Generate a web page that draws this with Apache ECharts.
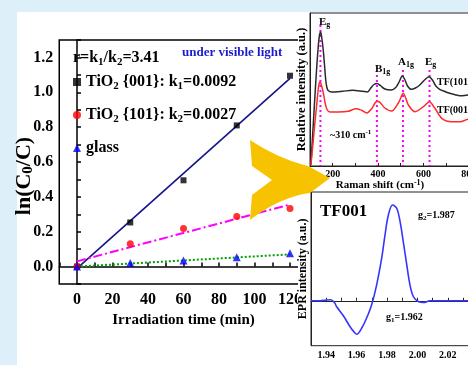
<!DOCTYPE html>
<html><head><meta charset="utf-8">
<script src="https://cdn.jsdelivr.net/npm/echarts@6/dist/echarts.min.js"></script>
<style>
html,body{margin:0;padding:0;background:#ddeff9;}
#wrap{position:relative;width:468px;height:365px;overflow:hidden;background:#ddeff9;}
#panel{position:absolute;left:17px;top:12px;right:0;bottom:0;background:#fff;}
#chart{position:absolute;left:0;top:0;width:468px;height:365px;}
</style></head><body>
<div id="wrap"><div id="panel"></div><div id="chart"></div></div>
<script>
// ---------- main chart: ln(C0/C) vs irradiation time ----------
const timeMin = [0, 30, 60, 90, 120];
const lnTiO2_001 = [0, 0.253, 0.495, 0.81, 1.095];
const lnTiO2_101 = [0, 0.131, 0.218, 0.287, 0.333];
const lnGlass = [0, 0.02, 0.035, 0.054, 0.076];
const fitTime = [0, 120];
const fit001 = [-0.01, 1.08];
const fit101 = [0.03, 0.356];
const fitGlass = [0.0, 0.07];
const xTicks = [0, 20, 40, 60, 80, 100, 120];
const yTicks = [0.0, 0.2, 0.4, 0.6, 0.8, 1.0, 1.2];

// ---------- Raman inset ----------
const ramanShift101 = [104,113,122,130,137,142,147,152,158,164,169,174,180,196,243,287,331,353,368,382,396,410,430,459,478,493,507,518,530,547,565,584,605,625,640,655,672,695,716,740,760,796,830,880];
const ramanInt101   = [1,36,71,100,121,131,134,128,117,101,87,79,75.5,74,74.7,75.7,74.7,74,78,81.5,82.5,80.5,77,76,78.5,84,90,86.5,80,76.7,78,81,86,89.3,86,80,76.7,74.5,72.7,71.3,70.3,71,72,72];
const ramanShift001 = [104,113,122,130,136.5,141,145,150,158,166,174,188,225,269,295,306,318,328,350,372,390,400,409,430,460,489,500,511,522,534,563,600,626,651,681,725,761,797,830,880];
const ramanInt001   = [1,22,44,62,77,83,84,81,74,64,57,54,54,54.7,57,57.3,56.5,55.7,53,57.3,64,64.5,63.5,58,55,62.7,68,72.7,68,61,54.3,59.3,64.3,57.7,47.7,44.3,44.3,46.7,47,47];
const ramanPeaks = [146, 395, 510, 627];
const ramanPeakTop = [141, 91, 96, 96];
const ramanTicks = [200, 400, 600, 800];
const ramanArrow = [[284, 30.7], [313, 54]];

// ---------- EPR inset ----------
const gValue = [1.930,1.936,1.940,1.943,1.9455,1.9469,1.9513,1.9557,1.9589,1.9601,1.9634,1.9666,1.9699,1.9732,1.9765,1.9787,1.9809,1.9837,1.9864,1.9886,1.9907,1.9930,1.9951,1.9973,2.0006,2.0039,2.0083,2.02,2.05];
const eprIntensity = [0,0,0.8,1,-2,-6,-15,-26,-32.3,-33.5,-27.3,-17.3,-4,16,42.7,66,86,96,92.7,79.3,59.3,36,16,4.3,-0.7,-1.7,0,0,0];
const gTicks = [1.94, 1.96, 1.98, 2.00, 2.02, 2.04];
const g2Arrow = [[2.0017, 91], [1.9841, 96]];
const g1Arrow = [[1.9787, -19], [1.9634, -32.3]];

const serif = 'Liberation Serif';
const pairs = (xs, ys) => xs.map((x, i) => [x, ys[i]]);

const chart = echarts.init(document.getElementById('chart'), null, {renderer: 'canvas'});

const subRich = (fs, lh) => ({fontSize: fs, lineHeight: lh, verticalAlign: 'bottom', fontWeight: 'bold', fontFamily: serif});

function gText(x, y, text, fs, lh, opts) {
  opts = opts || {};
  return {
    type: 'text', x: x, y: y, z: opts.z || 40, rotation: opts.rotation || 0, silent: true,
    style: {
      text: text, fill: opts.fill || '#000', fontSize: fs, fontWeight: 'bold', fontFamily: serif,
      lineHeight: lh, align: opts.align || 'left', textAlign: opts.align || 'left',
      verticalAlign: 'middle', textVerticalAlign: 'middle',
      rich: {
        s: {fontSize: Math.round(fs * 0.7), lineHeight: Math.round(fs * 0.7), verticalAlign: 'bottom', fontWeight: 'bold', fontFamily: serif, fill: opts.fill || '#000'},
        u: {fontSize: Math.round(fs * 0.7), lineHeight: Math.round(fs * 0.7), verticalAlign: 'top', fontWeight: 'bold', fontFamily: serif, fill: opts.fill || '#000'}
      }
    }
  };
}

// decorative yellow arrow outline (quadratic curves sampled to a polygon)
function quad(p0, c, p1, n) {
  const out = [];
  for (let i = 0; i <= n; i++) {
    const t = i / n, a = (1 - t) * (1 - t), b = 2 * (1 - t) * t, d = t * t;
    out.push([a * p0[0] + b * c[0] + d * p1[0], a * p0[1] + b * c[1] + d * p1[1]]);
  }
  return out;
}
const arrowPts = [].concat(
  quad([250, 140], [279, 159], [308, 166], 12),
  [[330, 178]],
  quad([310, 193], [280, 197], [250, 220], 12),
  [[252, 195], [272, 180], [252, 166]]
);

const legendLabels = {
  'TiO2 {001}': 'TiO{s|2} {001}: k{s|1}=0.0092',
  'TiO2 {101}': 'TiO{s|2} {101}: k{s|2}=0.0027',
  'glass': 'glass'
};

const insetAxisBase = {
  z: 20,
  axisLine: {show: true, lineStyle: {color: '#222', width: 1}},
  splitLine: {show: false}
};

const peakSeries = ramanPeaks.map((p, i) => ({
  type: 'line', xAxisIndex: 1, yAxisIndex: 1, z: 19, silent: true,
  data: [[p, ramanPeakTop[i]], [p, 0]], symbol: 'none',
  lineStyle: {color: '#ff00ff', width: 2, type: [2, 3]}
}));

const option = {
  backgroundColor: 'transparent',
  animation: false,
  grid: [
    {left: 59.25, top: 40, width: 248.5, height: 244, show: true, borderColor: '#000', borderWidth: 1.5, backgroundColor: 'transparent', outerBoundsMode: 'none', containLabel: false},
    {left: 310, top: 13, width: 181.4, height: 153, show: true, borderColor: '#222', borderWidth: 1, z: 15, outerBoundsMode: 'none', containLabel: false},
    {left: 311, top: 192, width: 182.4, height: 153.7, show: true, borderColor: '#222', borderWidth: 1, z: 15, outerBoundsMode: 'none', containLabel: false}
  ],
  xAxis: [
    {gridIndex: 0, type: 'value', min: -10, max: 130, interval: 10,
     axisLine: {lineStyle: {color: '#000', width: 1.5}},
     axisTick: {inside: true, length: 4, lineStyle: {color: '#000', width: 1.5}},
     axisLabel: {margin: 8, fontSize: 16, color: '#000', fontFamily: serif, fontWeight: 'bold',
       formatter: v => xTicks.indexOf(Math.round(v)) >= 0 ? String(Math.round(v)) : ''},
     splitLine: {show: false},
     name: 'Irradiation time (min)', nameLocation: 'middle', nameGap: 28,
     nameTextStyle: {fontSize: 15, color: '#000', fontFamily: serif, fontWeight: 'bold'}},
    Object.assign({gridIndex: 1, type: 'value', min: 100, max: 900, interval: 100,
     axisTick: {inside: true, length: 3, lineStyle: {color: '#222'}},
     axisLabel: {margin: 3, fontSize: 10, color: '#000', fontFamily: serif, fontWeight: 'bold',
       formatter: v => ramanTicks.indexOf(Math.round(v)) >= 0 ? String(Math.round(v)) : ''}}, insetAxisBase),
    Object.assign({gridIndex: 2, type: 'value', min: 1.93, max: 2.05, interval: 0.01,
     axisTick: {inside: true, length: 3, lineStyle: {color: '#222'}},
     axisLabel: {margin: 5, fontSize: 10, color: '#000', fontFamily: serif, fontWeight: 'bold',
       formatter: v => { const r = Math.round(v * 100) / 100; return gTicks.some(t => Math.abs(t - r) < 1e-6) ? r.toFixed(2) : ''; }}}, insetAxisBase)
  ],
  yAxis: [
    {gridIndex: 0, type: 'value', min: -0.1, max: 1.3, interval: 0.1,
     axisLine: {lineStyle: {color: '#000', width: 1.5}},
     axisTick: {inside: true, length: 4, lineStyle: {color: '#000', width: 1.5}},
     axisLabel: {margin: 6, fontSize: 16, color: '#000', fontFamily: serif, fontWeight: 'bold',
       formatter: v => { const r = Math.round(v * 10) / 10; return yTicks.some(t => Math.abs(t - r) < 1e-6) ? r.toFixed(1) : ''; }},
     splitLine: {show: false}},
    Object.assign({gridIndex: 1, type: 'value', min: 0, max: 153,
     axisTick: {show: false}, axisLabel: {show: false},
     name: 'Relative intensity (a.u.)', nameLocation: 'middle', nameGap: 2,
     nameTextStyle: {fontSize: 12.5, color: '#000', fontFamily: serif, fontWeight: 'bold'}}, insetAxisBase),
    Object.assign({gridIndex: 2, type: 'value', min: -45, max: 109,
     axisTick: {show: false}, axisLabel: {show: false},
     name: 'EPR intensity (a.u.)', nameLocation: 'middle', nameGap: 2,
     nameTextStyle: {fontSize: 12, color: '#000', fontFamily: serif, fontWeight: 'bold'}}, insetAxisBase)
  ],
  legend: {
    data: ['TiO2 {001}', 'TiO2 {101}', 'glass'],
    orient: 'vertical', left: 73, top: 72, padding: 0, itemWidth: 8, itemHeight: 8, itemGap: 13,
    selectedMode: false, z: 40,
    formatter: name => legendLabels[name],
    textStyle: {fontSize: 16, lineHeight: 20, color: '#000', fontFamily: serif, fontWeight: 'bold',
      rich: {s: Object.assign(subRich(11, 12), {color: '#000'})}}
  },
  series: [
    {name: 'fit001', type: 'line', data: pairs(fitTime, fit001), symbol: 'none', lineStyle: {color: '#14148a', width: 1.6}},
    {name: 'fit101', type: 'line', data: pairs(fitTime, fit101), symbol: 'none', lineStyle: {color: '#ff00ff', width: 2, type: [9, 3, 2, 3]}},
    {name: 'fitGlass', type: 'line', data: pairs(fitTime, fitGlass), symbol: 'none', lineStyle: {color: '#00a000', width: 2, type: [2, 2]}},
    {name: 'TiO2 {001}', type: 'scatter', data: pairs(timeMin, lnTiO2_001), symbol: 'rect', symbolSize: 6, itemStyle: {color: '#000'}, z: 3},
    {name: 'TiO2 {101}', type: 'scatter', data: pairs(timeMin, lnTiO2_101), symbol: 'circle', symbolSize: 7, itemStyle: {color: '#ff0000'}, z: 3},
    {name: 'glass', type: 'scatter', data: pairs(timeMin, lnGlass), symbol: 'triangle', symbolSize: 8, itemStyle: {color: '#0000ff'}, z: 3},
    {name: 'TF(101)', type: 'line', xAxisIndex: 1, yAxisIndex: 1, z: 20, data: pairs(ramanShift101, ramanInt101), symbol: 'none', smooth: 0.3,
     lineStyle: {color: '#2a2a2a', width: 1.5}},
    {name: 'TF(001)', type: 'line', xAxisIndex: 1, yAxisIndex: 1, z: 20, data: pairs(ramanShift001, ramanInt001), symbol: 'none', smooth: 0.3,
     lineStyle: {color: '#ff2a2a', width: 1.5},
     markLine: {silent: true, symbol: ['none', 'arrow'], symbolSize: 7, label: {show: false},
       lineStyle: {color: '#a01515', width: 1.3, type: 'solid'},
       data: [[{coord: ramanArrow[0]}, {coord: ramanArrow[1]}]]}},
    ...peakSeries,
    {name: 'TF001', type: 'line', xAxisIndex: 2, yAxisIndex: 2, z: 20, data: pairs(gValue, eprIntensity), symbol: 'none', smooth: 0.35,
     lineStyle: {color: '#3535ff', width: 1.6},
     markLine: {silent: true, symbol: ['none', 'arrow'], symbolSize: 7, label: {show: false},
       lineStyle: {color: '#a01515', width: 1.3, type: 'solid'},
       data: [[{coord: g2Arrow[0]}, {coord: g2Arrow[1]}], [{coord: g1Arrow[0]}, {coord: g1Arrow[1]}]]}}
  ],
  graphic: [
    {type: 'rect', z: 10, silent: true, shape: {x: 298, y: 12, width: 170, height: 353}, style: {fill: '#fff'}},
    {type: 'polygon', z: 30, silent: true, shape: {points: arrowPts}, style: {fill: '#f7c300'}},
    gText(24, 176, 'ln(C{s|0}/C)', 22, 24, {align: 'center', rotation: Math.PI / 2}),
    gText(73, 58, 'r=k{s|1}/k{s|2}=3.41', 16, 20),
    gText(182, 53, 'under visible light', 13, 16, {fill: '#1c1ccc'}),
    gText(319, 22, 'E{s|g}', 11, 14),
    gText(375, 69, 'B{s|1g}', 11, 14),
    gText(398, 62, 'A{s|1g}', 11, 14),
    gText(425, 62, 'E{s|g}', 11, 14),
    gText(437, 82, 'TF(101)', 10, 12),
    gText(437, 110, 'TF(001)', 10, 12),
    gText(330, 135, '~310 cm{u|-1}', 10, 12),
    gText(380, 185, 'Raman shift (cm{u|-1})', 11, 13, {align: 'center'}),
    gText(320, 212, 'TF001', 17, 20),
    gText(418, 215, 'g{s|2}=1.987', 10, 13),
    gText(386, 317, 'g{s|1}=1.962', 10, 13),
    gText(391, 369, 'g value', 11, 13, {align: 'center'})
  ]
};
chart.setOption(option);
</script>
</body></html>
